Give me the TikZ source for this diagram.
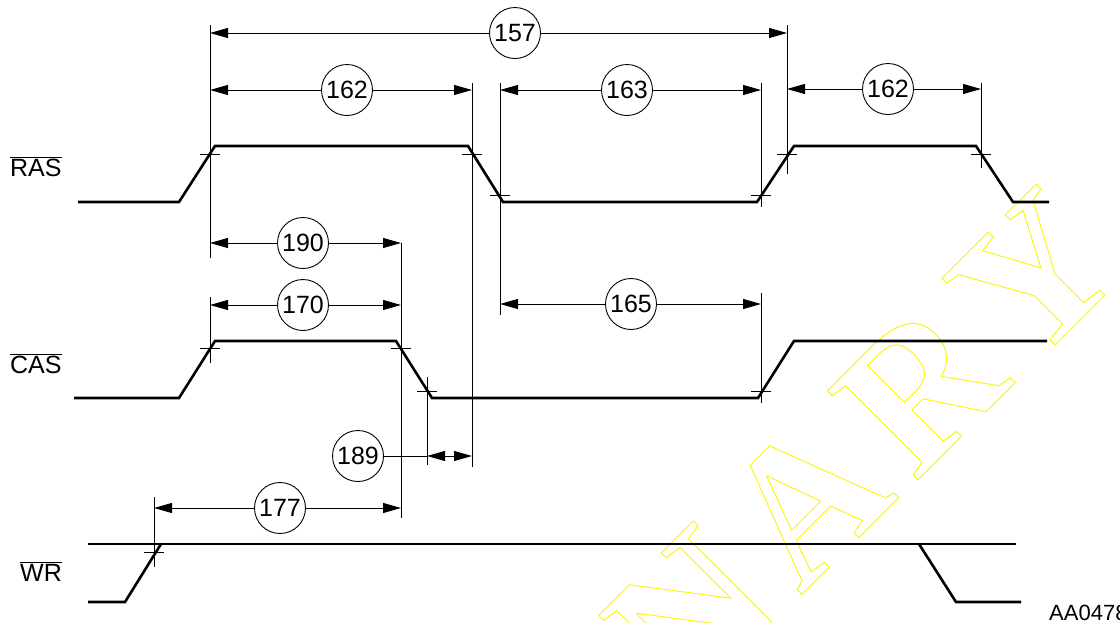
\documentclass[tikz,border=0pt]{standalone}
\usepackage{fontspec}
\setmainfont{Liberation Sans}
\newfontfamily\wmfont{Liberation Serif}
\usetikzlibrary{arrows.meta}
\newcommand\hollow[1]{\special{pdf:literal direct 1 Tr 0.9 w}#1\special{pdf:literal direct 0 Tr}}

\begin{document}
\begin{tikzpicture}[x=1pt,y=-1pt,
      every node/.style={font=\fontsize{25}{30}\selectfont,inner sep=0pt},
      num/.style={circle,draw,line width=0.9pt,minimum size=51pt},
      ext/.style={line width=0.9pt},
      dim/.style={ext,-{Triangle[length=18pt,width=10pt]}},
      sig/.style={line width=2.6pt},
      wmark/.style={text=yellow,font=\wmfont\bfseries\fontsize{194}{194}\selectfont,rotate=45}]
    \useasboundingbox (0,0) rectangle (1120,622);
    \clip (0,0) rectangle (1120,622);
    \foreach \l [count=\i] in {P,R,E,L,I,M,I,N,A,R,Y}
        \node[wmark] (wm\i) at (114.5*\i-225.5,1513.5-112.5*\i) {\hollow{\l}};
    \node[anchor=base west] (lras) at (10,176) {$\overline{\mbox{RAS}}$};
    \node[anchor=base west] (lcas) at (10,373) {$\overline{\mbox{CAS}}$};
    \node[anchor=base west] (lwr) at (20,581) {$\overline{\mbox{WR}}$};
    \node[anchor=base west,font=\fontsize{22}{26}\selectfont] (lid) at (1049,620) {AA0478};
    \draw[sig] (78,202) -- (179,202) -- (215,146) -- (468,146) -- (503,202)
        -- (757,202) -- (794,146) -- (976,146) -- (1013,202) -- (1049,202);
    \draw[sig] (74,398) -- (179,398) -- (215,341) -- (396,341) -- (432,398)
        -- (758,398) -- (794,341) -- (1047,341);
    \draw[sig] (88,544) -- (1016,544);
    \draw[sig] (88,602) -- (125,602) -- (161,544);
    \draw[sig] (919,544) -- (956,602) -- (1021,602);
    \foreach \n/\x/\ya/\yb/\yt in {ra/210/25/258/154, rb/472/83/467/154,
        rc/500/83/315/195, rd/761/83/207/195, re/787/25/174/154,
        rf/981/83/168/154, ca/210/297/363/348, cb/401/243/518/348,
        cc/427/377/465/391, cd/761/293/403/391, wa/154/497/567/552}
    {
        \draw[ext] (\x,\ya) coordinate (\n) -- (\x,\yb);
        \draw[ext] (\x-10,\yt) -- (\x+10,\yt);
    }
    \node[num] (n157) at (515,33) {157};
    \node[num] (n162a) at (347,90) {162};
    \node[num] (n163) at (627,90) {163};
    \node[num] (n162b) at (888,89) {162};
    \node[num] (n190) at (303,243) {190};
    \node[num] (n170) at (303,305) {170};
    \node[num] (n165) at (631,304) {165};
    \node[num] (n189) at (358,456) {189};
    \node[num] (n177) at (280,508) {177};
    \draw[dim] (n157) -- (n157 -| ra);
    \draw[dim] (n157) -- (n157 -| re);
    \draw[dim] (n162a) -- (n162a -| ra);
    \draw[dim] (n162a) -- (n162a -| rb);
    \draw[dim] (n163) -- (n163 -| rc);
    \draw[dim] (n163) -- (n163 -| rd);
    \draw[dim] (n162b) -- (n162b -| re);
    \draw[dim] (n162b) -- (n162b -| rf);
    \draw[dim] (n190) -- (n190 -| ra);
    \draw[dim] (n190) -- (n190 -| cb);
    \draw[dim] (n170) -- (n170 -| ca);
    \draw[dim] (n170) -- (n170 -| cb);
    \draw[dim] (n165) -- (n165 -| rc);
    \draw[dim] (n165) -- (n165 -| cd);
    \draw[dim] (n177) -- (n177 -| wa);
    \draw[dim] (n177) -- (n177 -| cb);
    \draw[ext] (n189) -- (n189 -| cc);
    \draw[ext,{Triangle[length=18pt,width=10pt]}-{Triangle[length=18pt,width=10pt]}]
        (n189 -| cc) -- (n189 -| rb);
  \end{tikzpicture}
\end{document}
